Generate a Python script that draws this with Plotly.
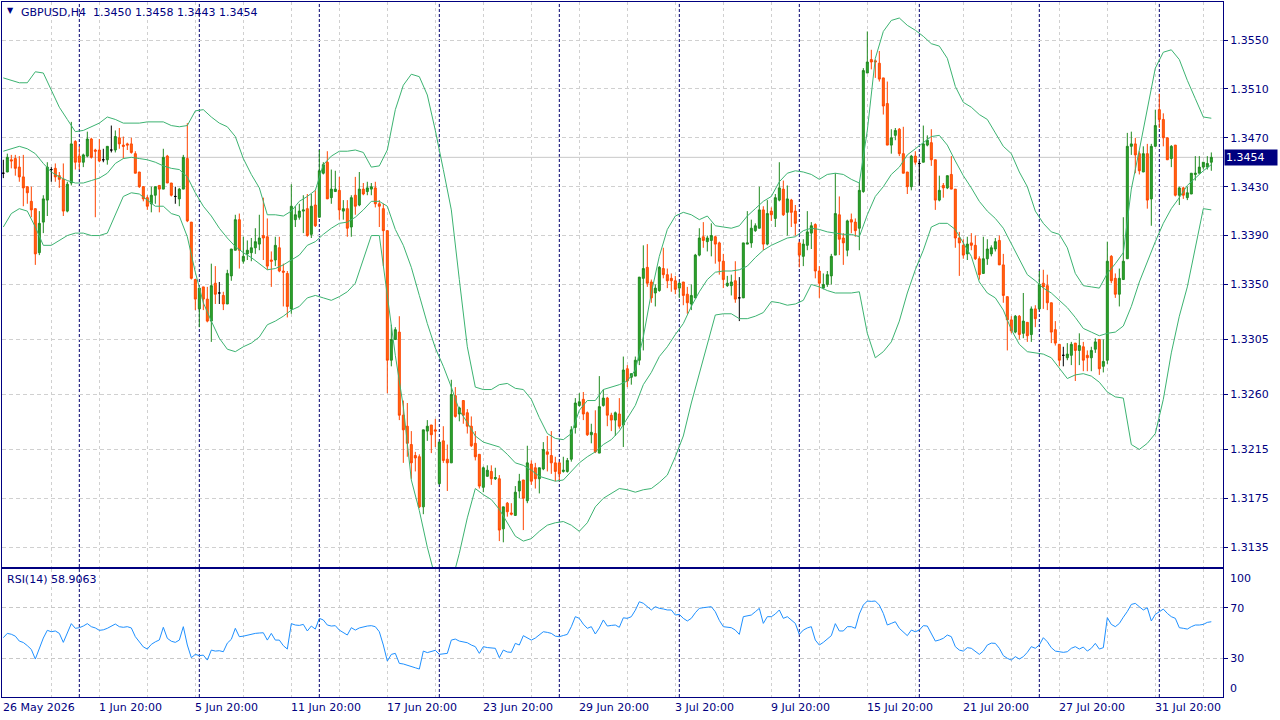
import plotly.graph_objects as go

# GBPUSD H4 candles, bar by bar
opens = [
    1.3441, 1.3442, 1.3452, 1.3453, 1.3446, 1.3438, 1.3430, 1.3418, 1.3412, 1.3376,
    1.3401, 1.3419, 1.3444, 1.3445, 1.3439, 1.3436, 1.3410, 1.3433, 1.3467, 1.3455,
    1.3450, 1.3455, 1.3469, 1.3460, 1.3460, 1.3452, 1.3452, 1.3460, 1.3460, 1.3470,
    1.3464, 1.3465, 1.3465, 1.3457, 1.3442, 1.3430, 1.3421, 1.3416, 1.3423, 1.3431,
    1.3428, 1.3455, 1.3433, 1.3422, 1.3420, 1.3428, 1.3453, 1.3401, 1.3354, 1.3330,
    1.3348, 1.3338, 1.3320, 1.3351, 1.3343, 1.3341, 1.3334, 1.3357, 1.3378, 1.3403,
    1.3369, 1.3375, 1.3376, 1.3380, 1.3383, 1.3390, 1.3389, 1.3370, 1.3370, 1.3380,
    1.3361, 1.3359, 1.3330, 1.3403, 1.3405, 1.3410, 1.3412, 1.3391, 1.3415, 1.3405,
    1.3441, 1.3450, 1.3421, 1.3426, 1.3427, 1.3410, 1.3412, 1.3397, 1.3423, 1.3415,
    1.3428, 1.3426, 1.3428, 1.3429, 1.3416, 1.3412, 1.3394, 1.3288, 1.3305, 1.3311,
    1.3243, 1.3234, 1.3219, 1.3210, 1.3209, 1.3168, 1.3230, 1.3235, 1.3231, 1.3187,
    1.3222, 1.3207, 1.3204, 1.3259, 1.3244, 1.3255, 1.3245, 1.3234, 1.3220, 1.3211,
    1.3184, 1.3193, 1.3197, 1.3191, 1.3191, 1.3150, 1.3171, 1.3163, 1.3161, 1.3181,
    1.3190, 1.3173, 1.3203, 1.3200, 1.3191, 1.3199, 1.3213, 1.3210, 1.3204, 1.3204,
    1.3197, 1.3197, 1.3207, 1.3233, 1.3251, 1.3256, 1.3245, 1.3227, 1.3228, 1.3212,
    1.3251, 1.3257, 1.3243, 1.3239, 1.3244, 1.3235, 1.3281, 1.3274, 1.3275, 1.3288,
    1.3355, 1.3364, 1.3352, 1.3343, 1.3345, 1.3363, 1.3358, 1.3355, 1.3353, 1.3347,
    1.3352, 1.3342, 1.3334, 1.3339, 1.3374, 1.3389, 1.3385, 1.3386, 1.3389, 1.3384,
    1.3369, 1.3349, 1.3349, 1.3353, 1.3339, 1.3339, 1.3383, 1.3384, 1.3394, 1.3396,
    1.3411, 1.3383, 1.3410, 1.3404, 1.3419, 1.3428, 1.3409, 1.3419, 1.3410, 1.3384,
    1.3373, 1.3382, 1.3392, 1.3399, 1.3361, 1.3347, 1.3350, 1.3357, 1.3374, 1.3407,
    1.3388, 1.3378, 1.3403, 1.3401, 1.3396, 1.3426, 1.3523, 1.3534, 1.3533, 1.3531,
    1.3519, 1.3498, 1.3464, 1.3472, 1.3477, 1.3457, 1.3442, 1.3430, 1.3455, 1.3449,
    1.3450, 1.3464, 1.3466, 1.3452, 1.3419, 1.3431, 1.3429, 1.3440, 1.3428, 1.3388,
    1.3382, 1.3375, 1.3384, 1.3382, 1.3371, 1.3359, 1.3371, 1.3375, 1.3379, 1.3386,
    1.3366, 1.3340, 1.3321, 1.3311, 1.3324, 1.3310, 1.3319, 1.3309, 1.3330, 1.3330,
    1.3351, 1.3349, 1.3335, 1.3313, 1.3301, 1.3292, 1.3290, 1.3292, 1.3302, 1.3296,
    1.3299, 1.3292, 1.3290, 1.3297, 1.3305, 1.3283, 1.3288, 1.3373, 1.3355, 1.3342,
    1.3354, 1.3371, 1.3463, 1.3465, 1.3457, 1.3442, 1.3457, 1.3420, 1.3463, 1.3493,
    1.3485, 1.3470, 1.3453, 1.3464, 1.3423, 1.3429, 1.3421, 1.3424, 1.3440, 1.3441,
    1.3446, 1.3446, 1.3450,
]
highs = [
    1.3452, 1.3457, 1.3456, 1.3456, 1.3455, 1.3456, 1.3430, 1.3430, 1.3412, 1.3410,
    1.3423, 1.3450, 1.3446, 1.3449, 1.3442, 1.3449, 1.3434, 1.3483, 1.3468, 1.3463,
    1.3457, 1.3475, 1.3470, 1.3461, 1.3469, 1.3461, 1.3463, 1.3480, 1.3476, 1.3478,
    1.3471, 1.3466, 1.3470, 1.3459, 1.3442, 1.3430, 1.3423, 1.3430, 1.3430, 1.3431,
    1.3461, 1.3456, 1.3433, 1.3430, 1.3429, 1.3456, 1.3482, 1.3401, 1.3354, 1.3347,
    1.3348, 1.3348, 1.3367, 1.3365, 1.3352, 1.3344, 1.3362, 1.3379, 1.3407, 1.3408,
    1.3389, 1.3386, 1.3388, 1.3396, 1.3407, 1.3421, 1.3404, 1.3377, 1.3389, 1.3389,
    1.3367, 1.3361, 1.3432, 1.3414, 1.3416, 1.3423, 1.3424, 1.3424, 1.3427, 1.3460,
    1.3450, 1.3459, 1.3444, 1.3443, 1.3438, 1.3419, 1.3419, 1.3423, 1.3438, 1.3442,
    1.3433, 1.3434, 1.3433, 1.3434, 1.3419, 1.3416, 1.3394, 1.3317, 1.3315, 1.3324,
    1.3255, 1.3253, 1.3230, 1.3213, 1.3211, 1.3231, 1.3239, 1.3235, 1.3240, 1.3221,
    1.3234, 1.3219, 1.3272, 1.3266, 1.3250, 1.3255, 1.3248, 1.3242, 1.3230, 1.3211,
    1.3201, 1.3202, 1.3202, 1.3200, 1.3194, 1.3168, 1.3172, 1.3171, 1.3185, 1.3195,
    1.3190, 1.3218, 1.3206, 1.3204, 1.3200, 1.3221, 1.3226, 1.3230, 1.3209, 1.3205,
    1.3209, 1.3208, 1.3234, 1.3257, 1.3261, 1.3262, 1.3246, 1.3236, 1.3247, 1.3275,
    1.3264, 1.3258, 1.3245, 1.3246, 1.3257, 1.3291, 1.3284, 1.3277, 1.3291, 1.3356,
    1.3382, 1.3383, 1.3354, 1.3350, 1.3365, 1.3380, 1.3363, 1.3359, 1.3357, 1.3352,
    1.3352, 1.3348, 1.3350, 1.3375, 1.3396, 1.3401, 1.3390, 1.3400, 1.3390, 1.3385,
    1.3375, 1.3357, 1.3358, 1.3369, 1.3356, 1.3384, 1.3410, 1.3403, 1.3400, 1.3430,
    1.3414, 1.3419, 1.3413, 1.3424, 1.3450, 1.3435, 1.3431, 1.3420, 1.3415, 1.3385,
    1.3387, 1.3410, 1.3401, 1.3400, 1.3365, 1.3359, 1.3361, 1.3375, 1.3441, 1.3422,
    1.3392, 1.3403, 1.3408, 1.3404, 1.3433, 1.3527, 1.3557, 1.3542, 1.3534, 1.3541,
    1.3519, 1.3516, 1.3477, 1.3478, 1.3478, 1.3479, 1.3442, 1.3456, 1.3459, 1.3451,
    1.3480, 1.3472, 1.3477, 1.3452, 1.3439, 1.3433, 1.3439, 1.3455, 1.3428, 1.3393,
    1.3387, 1.3389, 1.3392, 1.3390, 1.3373, 1.3389, 1.3387, 1.3382, 1.3388, 1.3390,
    1.3375, 1.3340, 1.3324, 1.3325, 1.3325, 1.3343, 1.3319, 1.3332, 1.3333, 1.3361,
    1.3362, 1.3358, 1.3335, 1.3320, 1.3301, 1.3299, 1.3302, 1.3303, 1.3302, 1.3310,
    1.3303, 1.3296, 1.3299, 1.3306, 1.3305, 1.3305, 1.3385, 1.3374, 1.3359, 1.3363,
    1.3405, 1.3474, 1.3475, 1.3470, 1.3459, 1.3463, 1.3465, 1.3465, 1.3493, 1.3506,
    1.3490, 1.3470, 1.3464, 1.3464, 1.3430, 1.3430, 1.3430, 1.3441, 1.3455, 1.3455,
    1.3450, 1.3455, 1.3458,
]
lows = [
    1.3437, 1.3442, 1.3445, 1.3439, 1.3434, 1.3414, 1.3416, 1.3405, 1.3366, 1.3374,
    1.3392, 1.3406, 1.3434, 1.3434, 1.3429, 1.3406, 1.3409, 1.3431, 1.3444, 1.3444,
    1.3446, 1.3454, 1.3453, 1.3405, 1.3450, 1.3450, 1.3448, 1.3458, 1.3458, 1.3461,
    1.3453, 1.3460, 1.3457, 1.3441, 1.3429, 1.3418, 1.3411, 1.3409, 1.3416, 1.3409,
    1.3428, 1.3433, 1.3422, 1.3416, 1.3414, 1.3428, 1.3401, 1.3354, 1.3329, 1.3315,
    1.3329, 1.3319, 1.3303, 1.3334, 1.3334, 1.3329, 1.3334, 1.3353, 1.3378, 1.3363,
    1.3367, 1.3370, 1.3369, 1.3375, 1.3378, 1.3370, 1.3362, 1.3348, 1.3365, 1.3360,
    1.3332, 1.3323, 1.3326, 1.3397, 1.3403, 1.3392, 1.3389, 1.3388, 1.3397, 1.3405,
    1.3440, 1.3420, 1.3416, 1.3426, 1.3403, 1.3403, 1.3389, 1.3389, 1.3407, 1.3414,
    1.3423, 1.3423, 1.3423, 1.3413, 1.3397, 1.3365, 1.3261, 1.3283, 1.3305, 1.3239,
    1.3204, 1.3209, 1.3191, 1.3197, 1.3167, 1.3162, 1.3222, 1.3212, 1.3217, 1.3186,
    1.3204, 1.3181, 1.3204, 1.3241, 1.3238, 1.3236, 1.3228, 1.3217, 1.3206, 1.3183,
    1.3180, 1.3193, 1.3186, 1.3190, 1.3140, 1.3139, 1.3160, 1.3161, 1.3161, 1.3175,
    1.3149, 1.3171, 1.3186, 1.3183, 1.3179, 1.3198, 1.3197, 1.3195, 1.3189, 1.3189,
    1.3196, 1.3196, 1.3205, 1.3228, 1.3250, 1.3239, 1.3226, 1.3220, 1.3212, 1.3212,
    1.3250, 1.3234, 1.3230, 1.3226, 1.3232, 1.3217, 1.3266, 1.3268, 1.3275, 1.3284,
    1.3296, 1.3348, 1.3335, 1.3332, 1.3344, 1.3355, 1.3347, 1.3344, 1.3342, 1.3339,
    1.3333, 1.3326, 1.3329, 1.3339, 1.3373, 1.3380, 1.3377, 1.3373, 1.3367, 1.3358,
    1.3347, 1.3348, 1.3341, 1.3335, 1.3320, 1.3339, 1.3383, 1.3380, 1.3393, 1.3396,
    1.3378, 1.3382, 1.3402, 1.3397, 1.3418, 1.3406, 1.3390, 1.3397, 1.3390, 1.3364,
    1.3365, 1.3378, 1.3379, 1.3355, 1.3339, 1.3346, 1.3348, 1.3350, 1.3374, 1.3374,
    1.3366, 1.3373, 1.3392, 1.3389, 1.3378, 1.3425, 1.3523, 1.3526, 1.3519, 1.3516,
    1.3489, 1.3464, 1.3457, 1.3468, 1.3455, 1.3441, 1.3424, 1.3427, 1.3448, 1.3431,
    1.3450, 1.3463, 1.3447, 1.3411, 1.3418, 1.3421, 1.3428, 1.3428, 1.3380, 1.3357,
    1.3371, 1.3370, 1.3378, 1.3370, 1.3354, 1.3359, 1.3366, 1.3373, 1.3377, 1.3366,
    1.3335, 1.3296, 1.3310, 1.3310, 1.3305, 1.3306, 1.3303, 1.3303, 1.3315, 1.3329,
    1.3330, 1.3329, 1.3302, 1.3300, 1.3283, 1.3283, 1.3288, 1.3284, 1.3271, 1.3284,
    1.3279, 1.3279, 1.3279, 1.3294, 1.3276, 1.3278, 1.3285, 1.3351, 1.3339, 1.3332,
    1.3354, 1.3371, 1.3456, 1.3441, 1.3440, 1.3442, 1.3412, 1.3398, 1.3463, 1.3478,
    1.3463, 1.3452, 1.3446, 1.3422, 1.3415, 1.3420, 1.3419, 1.3424, 1.3435, 1.3441,
    1.3444, 1.3444, 1.3443,
]
closes = [
    1.3441, 1.3454, 1.3451, 1.3445, 1.3438, 1.3429, 1.3425, 1.3411, 1.3375, 1.3400,
    1.3420, 1.3446, 1.3444, 1.3438, 1.3436, 1.3410, 1.3432, 1.3465, 1.3450, 1.3450,
    1.3456, 1.3469, 1.3454, 1.3459, 1.3451, 1.3452, 1.3463, 1.3460, 1.3471, 1.3465,
    1.3463, 1.3464, 1.3458, 1.3441, 1.3430, 1.3420, 1.3414, 1.3423, 1.3430, 1.3428,
    1.3454, 1.3433, 1.3423, 1.3422, 1.3428, 1.3454, 1.3402, 1.3355, 1.3338, 1.3347,
    1.3338, 1.3320, 1.3349, 1.3342, 1.3343, 1.3334, 1.3359, 1.3379, 1.3403, 1.3378,
    1.3373, 1.3378, 1.3380, 1.3385, 1.3388, 1.3388, 1.3365, 1.3369, 1.3382, 1.3361,
    1.3360, 1.3332, 1.3414, 1.3407, 1.3410, 1.3411, 1.3390, 1.3414, 1.3398, 1.3443,
    1.3448, 1.3420, 1.3428, 1.3428, 1.3411, 1.3412, 1.3396, 1.3421, 1.3414, 1.3428,
    1.3424, 1.3429, 1.3430, 1.3416, 1.3414, 1.3394, 1.3288, 1.3305, 1.3313, 1.3243,
    1.3231, 1.3220, 1.3204, 1.3208, 1.3168, 1.3231, 1.3234, 1.3227, 1.3230, 1.3221,
    1.3206, 1.3204, 1.3260, 1.3242, 1.3249, 1.3243, 1.3234, 1.3218, 1.3209, 1.3185,
    1.3200, 1.3198, 1.3191, 1.3192, 1.3149, 1.3168, 1.3164, 1.3162, 1.3180, 1.3189,
    1.3175, 1.3204, 1.3189, 1.3191, 1.3200, 1.3215, 1.3211, 1.3204, 1.3197, 1.3195,
    1.3198, 1.3206, 1.3231, 1.3253, 1.3254, 1.3244, 1.3227, 1.3229, 1.3213, 1.3250,
    1.3257, 1.3243, 1.3239, 1.3245, 1.3234, 1.3280, 1.3271, 1.3277, 1.3288, 1.3356,
    1.3363, 1.3351, 1.3339, 1.3347, 1.3364, 1.3358, 1.3353, 1.3353, 1.3346, 1.3351,
    1.3341, 1.3335, 1.3341, 1.3374, 1.3388, 1.3386, 1.3388, 1.3390, 1.3383, 1.3369,
    1.3354, 1.3351, 1.3352, 1.3338, 1.3339, 1.3384, 1.3384, 1.3396, 1.3398, 1.3411,
    1.3383, 1.3408, 1.3407, 1.3421, 1.3429, 1.3407, 1.3420, 1.3409, 1.3400, 1.3374,
    1.3383, 1.3393, 1.3398, 1.3361, 1.3351, 1.3350, 1.3358, 1.3373, 1.3408, 1.3387,
    1.3384, 1.3402, 1.3401, 1.3394, 1.3427, 1.3525, 1.3532, 1.3532, 1.3532, 1.3518,
    1.3496, 1.3464, 1.3470, 1.3476, 1.3457, 1.3441, 1.3430, 1.3455, 1.3450, 1.3449,
    1.3465, 1.3468, 1.3452, 1.3419, 1.3427, 1.3429, 1.3439, 1.3428, 1.3388, 1.3384,
    1.3374, 1.3383, 1.3382, 1.3371, 1.3358, 1.3371, 1.3379, 1.3380, 1.3385, 1.3366,
    1.3341, 1.3321, 1.3312, 1.3324, 1.3309, 1.3320, 1.3308, 1.3330, 1.3322, 1.3350,
    1.3348, 1.3335, 1.3311, 1.3302, 1.3288, 1.3292, 1.3293, 1.3301, 1.3296, 1.3300,
    1.3288, 1.3290, 1.3296, 1.3303, 1.3281, 1.3287, 1.3369, 1.3353, 1.3342, 1.3355,
    1.3369, 1.3463, 1.3465, 1.3456, 1.3443, 1.3457, 1.3419, 1.3463, 1.3480, 1.3485,
    1.3470, 1.3452, 1.3463, 1.3423, 1.3429, 1.3423, 1.3425, 1.3441, 1.3441, 1.3446,
    1.3450, 1.3449, 1.3454,
]

# RSI(14), one value per bar
rsi = [
    46.3, 49.7, 49.0, 47.5, 43.6, 42.5, 40.0, 37.0, 29.4, 37.9,
    46.0, 52.1, 51.0, 51.6, 49.7, 42.6, 49.7, 57.4, 53.7, 54.2,
    55.5, 57.4, 55.0, 54.0, 52.1, 52.5, 53.7, 55.5, 57.1, 55.0,
    54.5, 55.0, 54.0, 47.1, 43.0, 39.0, 37.3, 41.0, 43.0, 44.5,
    54.5, 45.8, 43.5, 42.6, 44.4, 55.0, 40.5, 30.5, 33.1, 32.1,
    32.5, 28.6, 36.5, 35.7, 36.0, 35.2, 42.0, 45.0, 53.7, 47.1,
    47.5, 48.4, 48.8, 49.7, 50.0, 50.2, 44.4, 49.7, 44.4, 44.4,
    40.0, 37.3, 57.4, 56.3, 56.0, 56.8, 51.6, 55.5, 53.1, 61.6,
    60.3, 56.3, 55.5, 55.8, 52.3, 50.5, 48.4, 54.2, 52.3, 54.0,
    55.0, 55.5, 55.8, 55.0, 51.0, 40.5, 27.8, 33.1, 33.9, 26.0,
    25.5, 24.7, 23.4, 22.5, 21.5, 35.7, 34.5, 35.7, 36.3, 33.1,
    33.5, 33.9, 44.4, 45.2, 43.6, 43.0, 42.3, 40.5, 39.2, 33.9,
    39.2, 38.5, 37.9, 37.9, 30.5, 36.5, 35.0, 34.7, 41.8, 40.5,
    47.9, 46.0, 44.4, 46.0, 48.4, 51.0, 50.5, 49.7, 47.5, 47.1,
    48.0, 48.9, 55.0, 62.9, 61.6, 57.0, 53.7, 55.0, 49.2, 54.0,
    60.3, 55.5, 56.0, 56.3, 54.5, 62.0, 61.6, 62.9, 68.0, 74.7,
    73.5, 70.8, 68.2, 70.8, 69.5, 69.0, 68.2, 68.2, 64.2, 64.7,
    61.6, 59.5, 61.6, 66.0, 69.5, 70.0, 70.5, 70.8, 66.8, 60.0,
    55.0, 54.5, 54.2, 52.3, 48.9, 62.9, 63.5, 64.2, 66.8, 69.5,
    57.6, 62.9, 62.9, 65.0, 68.2, 61.6, 62.9, 60.0, 57.6, 48.9,
    52.3, 54.0, 55.0, 44.4, 40.5, 42.6, 45.0, 47.9, 57.4, 51.6,
    51.6, 55.0, 55.0, 53.7, 65.0, 72.1, 75.3, 75.0, 75.3, 72.1,
    65.5, 56.3, 57.6, 58.9, 53.7, 51.0, 47.9, 52.3, 51.0, 52.3,
    55.8, 55.5, 49.7, 43.6, 44.5, 45.8, 48.4, 47.1, 39.2, 36.5,
    35.7, 38.4, 37.9, 35.7, 33.1, 35.7, 40.5, 42.0, 41.8, 37.9,
    32.1, 30.0, 28.6, 31.3, 29.4, 31.3, 34.7, 39.2, 37.9, 40.5,
    46.3, 43.1, 38.4, 35.7, 35.2, 34.7, 35.2, 37.9, 39.2, 37.3,
    38.9, 35.7, 37.9, 41.8, 37.3, 38.4, 62.1, 56.8, 55.0, 57.5,
    62.5, 67.0, 72.6, 73.4, 70.8, 68.2, 70.0, 59.5, 64.7, 66.8,
    68.9, 65.5, 62.9, 61.6, 54.2, 53.7, 53.1, 55.0, 56.3, 56.3,
    56.8, 58.4, 58.9063,
]

# Bollinger bands, read every second bar
band_upper = [
    1.3519, 1.3517, 1.3515, 1.3515, 1.3524, 1.3523, 1.3509, 1.3495, 1.3485, 1.3475,
    1.3476, 1.3479, 1.3482, 1.3487, 1.3485, 1.3482, 1.3482, 1.3482, 1.3483, 1.3483,
    1.3483, 1.3480, 1.3479, 1.3480, 1.3492, 1.3493, 1.3487, 1.3482, 1.3479, 1.3471,
    1.3453, 1.3440, 1.3429, 1.3407, 1.3407, 1.3406, 1.3410, 1.3418, 1.3422, 1.3427,
    1.3448, 1.3455, 1.3459, 1.3459, 1.3460, 1.3458, 1.3446, 1.3447, 1.3460, 1.3493,
    1.3513, 1.3522, 1.3520, 1.3505, 1.3476, 1.3444, 1.3411, 1.3354, 1.3299, 1.3266,
    1.3264, 1.3264, 1.3268, 1.3269, 1.3265, 1.3264, 1.3256, 1.3241, 1.3228, 1.3224,
    1.3223, 1.3228, 1.3247, 1.3255, 1.3255, 1.3264, 1.3266, 1.3268, 1.3271, 1.3280,
    1.3307, 1.3343, 1.3373, 1.3395, 1.3406, 1.3409, 1.3407, 1.3403, 1.3406, 1.3398,
    1.3397, 1.3396, 1.3398, 1.3406, 1.3412, 1.3418, 1.3422, 1.3434, 1.3441, 1.3443,
    1.3442, 1.3440, 1.3436, 1.3440, 1.3441, 1.3440, 1.3436, 1.3433, 1.3476, 1.3535,
    1.3557, 1.3566, 1.3568, 1.3562, 1.3558, 1.3553, 1.3547, 1.3545, 1.3535, 1.3512,
    1.3499, 1.3495, 1.3489, 1.3485, 1.3474, 1.3463, 1.3457, 1.3442, 1.3430, 1.3410,
    1.3400, 1.3393, 1.3391, 1.3380, 1.3359, 1.3349, 1.3348, 1.3347, 1.3359, 1.3367,
    1.3376, 1.3428, 1.3460, 1.3495, 1.3527, 1.3540, 1.3542, 1.3534, 1.3517, 1.3502,
    1.3487, 1.3486,
]
band_middle = [
    1.3459, 1.3461, 1.3463, 1.3461, 1.3457, 1.3449, 1.3442, 1.3438, 1.3435, 1.3433,
    1.3433, 1.3435, 1.3437, 1.3441, 1.3449, 1.3453, 1.3454, 1.3453, 1.3452, 1.3450,
    1.3447, 1.3445, 1.3444, 1.3438, 1.3425, 1.3414, 1.3406, 1.3396, 1.3388, 1.3381,
    1.3376, 1.3372, 1.3367, 1.3362, 1.3363, 1.3366, 1.3370, 1.3374, 1.3382, 1.3385,
    1.3391, 1.3396, 1.3400, 1.3401, 1.3405, 1.3411, 1.3418, 1.3418, 1.3414, 1.3395,
    1.3382, 1.3364, 1.3341, 1.3318, 1.3298, 1.3283, 1.3266, 1.3247, 1.3237, 1.3226,
    1.3221, 1.3219, 1.3217, 1.3211, 1.3204, 1.3202, 1.3198, 1.3193, 1.3191, 1.3189,
    1.3190, 1.3197, 1.3204, 1.3209, 1.3213, 1.3219, 1.3223, 1.3230, 1.3240, 1.3251,
    1.3268, 1.3278, 1.3291, 1.3299, 1.3309, 1.3318, 1.3332, 1.3344, 1.3354, 1.3360,
    1.3361, 1.3361, 1.3362, 1.3365, 1.3372, 1.3378, 1.3382, 1.3385, 1.3388, 1.3389,
    1.3394, 1.3396, 1.3395, 1.3393, 1.3392, 1.3391, 1.3391, 1.3389, 1.3407, 1.3422,
    1.3430, 1.3440, 1.3446, 1.3456, 1.3461, 1.3466, 1.3471, 1.3472, 1.3464, 1.3451,
    1.3439, 1.3429, 1.3418, 1.3410, 1.3404, 1.3396, 1.3383, 1.3370, 1.3358, 1.3353,
    1.3347, 1.3343, 1.3337, 1.3331, 1.3323, 1.3314, 1.3311, 1.3308, 1.3310, 1.3311,
    1.3316, 1.3332, 1.3352, 1.3369, 1.3385, 1.3400, 1.3412, 1.3421, 1.3431, 1.3437,
    1.3443, 1.3448,
]
band_lower = [
    1.3397, 1.3408, 1.3412, 1.3410, 1.3397, 1.3382, 1.3382, 1.3386, 1.3390, 1.3392,
    1.3392, 1.3390, 1.3390, 1.3392, 1.3407, 1.3422, 1.3425, 1.3424, 1.3419, 1.3414,
    1.3414, 1.3408, 1.3406, 1.3389, 1.3360, 1.3335, 1.3320, 1.3306, 1.3297, 1.3295,
    1.3299, 1.3302, 1.3307, 1.3317, 1.3320, 1.3324, 1.3329, 1.3332, 1.3339, 1.3341,
    1.3339, 1.3337, 1.3340, 1.3344, 1.3351, 1.3370, 1.3390, 1.3390, 1.3340, 1.3292,
    1.3250, 1.3190, 1.3165, 1.3135, 1.3110, 1.3095, 1.3105, 1.3130, 1.3159, 1.3183,
    1.3178, 1.3174, 1.3166, 1.3155, 1.3144, 1.3140, 1.3142, 1.3148, 1.3153, 1.3155,
    1.3156, 1.3153, 1.3148, 1.3155, 1.3168, 1.3175, 1.3179, 1.3183, 1.3182, 1.3180,
    1.3182, 1.3183, 1.3188, 1.3194, 1.3209, 1.3226, 1.3253, 1.3277, 1.3302, 1.3325,
    1.3326, 1.3326, 1.3322, 1.3322, 1.3324, 1.3327, 1.3336, 1.3335, 1.3333, 1.3334,
    1.3337, 1.3350, 1.3348, 1.3345, 1.3343, 1.3343, 1.3343, 1.3344, 1.3310, 1.3290,
    1.3295, 1.3303, 1.3320, 1.3343, 1.3362, 1.3378, 1.3397, 1.3400, 1.3400, 1.3395,
    1.3384, 1.3373, 1.3352, 1.3343, 1.3339, 1.3329, 1.3313, 1.3301, 1.3295, 1.3294,
    1.3293, 1.3290, 1.3281, 1.3273, 1.3276, 1.3277, 1.3275, 1.3270, 1.3262, 1.3258,
    1.3257, 1.3219, 1.3215, 1.3220, 1.3228, 1.3256, 1.3294, 1.3324, 1.3348, 1.3380,
    1.3412, 1.3411,
]

price_ticks = [1.3550, 1.3510, 1.3470, 1.3430, 1.3390, 1.3350, 1.3305, 1.3260, 1.3215, 1.3175, 1.3135]
rsi_levels = [30, 70]
time_labels = ['26 May 2026', '1 Jun 20:00', '5 Jun 20:00', '11 Jun 20:00', '17 Jun 20:00',
               '23 Jun 20:00', '29 Jun 20:00', '3 Jul 20:00', '9 Jul 20:00', '15 Jul 20:00',
               '21 Jul 20:00', '27 Jul 20:00', '31 Jul 20:00']

bars = list(range(len(closes)))
band_bars = bars[::2]
label_bars = bars[::24]
grid_bars = bars[12::12]
sep_bars = bars[19::30]

W, H = 1280, 720
NAVY = '#000080'
FONT = 'DejaVu Sans'
UP_LINE, UP_FILL = '#1f8a1f', '#2ca52c'
DN_LINE, DN_FILL = '#ff4500', '#ff6a10'
GRID = '#d0d0d0'

# pixel layout of the two panes
xdom = [2 / W, 1223 / W]
main_dom = [1 - 567 / H, 1 - 2 / H]
rsi_dom = [1 - 697 / H, 1 - 569 / H]
xrange_ = [-0.33, 304.92]
yrange_ = [1.31188, 1.35811]


def candles(idx, line, fill):
    return go.Candlestick(
        x=[bars[i] for i in idx],
        open=[opens[i] for i in idx], high=[highs[i] for i in idx],
        low=[lows[i] for i in idx], close=[closes[i] for i in idx],
        increasing=dict(line=dict(color=line, width=1), fillcolor=fill),
        decreasing=dict(line=dict(color=line, width=1), fillcolor=fill),
        whiskerwidth=0, showlegend=False, hoverinfo='skip', xaxis='x', yaxis='y')


up = [i for i in bars if closes[i] > opens[i]]
dn = [i for i in bars if closes[i] < opens[i]]
dj = [i for i in bars if closes[i] == opens[i]]

fig = go.Figure()
for band in (band_upper, band_middle, band_lower):
    fig.add_trace(go.Scatter(x=band_bars, y=band, mode='lines', line=dict(color='#3cb371', width=1),
                             showlegend=False, hoverinfo='skip', xaxis='x', yaxis='y'))
fig.add_trace(candles(up, UP_LINE, UP_FILL))
fig.add_trace(candles(dn, DN_LINE, DN_FILL))
fig.add_trace(candles(dj, '#000000', '#000000'))
fig.add_trace(go.Scatter(x=bars, y=rsi, mode='lines', line=dict(color='#1e90ff', width=1),
                         showlegend=False, hoverinfo='skip', xaxis='x2', yaxis='y2'))

axis_common = dict(showline=True, mirror=True, linecolor=NAVY, linewidth=1, zeroline=False,
                   tickfont=dict(family=FONT, size=11, color=NAVY))

shapes = []
for b in sep_bars:
    for xr, yr in (('x', 'y domain'), ('x2', 'y2 domain')):
        shapes.append(dict(type='line', xref=xr, yref=yr, x0=b, x1=b, y0=0, y1=1, layer='below',
                           line=dict(color='#000070', width=1, dash='3px,2px')))
shapes.append(dict(type='line', xref='x domain', yref='y', x0=0, x1=1, y0=closes[-1], y1=closes[-1],
                   layer='below', line=dict(color='#c8c8c8', width=1)))

annotations = []
for b, t in zip(label_bars, time_labels):
    annotations.append(dict(x=b, xref='x2', y=1 - 707 / H, yref='paper', text=t, showarrow=False,
                            xanchor='left', yanchor='middle', xshift=-2,
                            font=dict(family=FONT, size=11, color=NAVY)))
annotations.append(dict(x=5 / W, y=1 - 11 / H, xref='paper', yref='paper', text='▼', showarrow=False,
                        xanchor='left', yanchor='middle', font=dict(family=FONT, size=8, color=NAVY)))
header = 'GBPUSD,H4  %.4f %.4f %.4f %.4f' % (opens[-1], highs[-1], lows[-1], closes[-1])
annotations.append(dict(x=19 / W, y=1 - 12 / H, xref='paper', yref='paper', text=header, showarrow=False,
                        xanchor='left', yanchor='middle', font=dict(family=FONT, size=11, color=NAVY)))
annotations.append(dict(x=5 / W, y=1 - 579 / H, xref='paper', yref='paper', text='RSI(14) %.4f' % rsi[-1],
                        showarrow=False, xanchor='left', yanchor='middle',
                        font=dict(family=FONT, size=11, color=NAVY)))
for v, py in ((100, 578), (0, 688)):
    annotations.append(dict(x=1228 / W, y=1 - py / H, xref='paper', yref='paper', text=str(v),
                            showarrow=False, xanchor='left', yanchor='middle',
                            font=dict(family=FONT, size=11, color=NAVY)))
annotations.append(dict(x=1224 / W, y=closes[-1], xref='paper', yref='y', text='%.4f' % closes[-1],
                        showarrow=False, xanchor='left', yanchor='middle', bgcolor=NAVY,
                        width=50, align='left', borderpad=1,
                        font=dict(family=FONT, size=11, color='#ffffff')))

fig.update_layout(
    width=W, height=H, margin=dict(l=0, r=0, t=0, b=0),
    paper_bgcolor='#ffffff', plot_bgcolor='#ffffff', showlegend=False,
    xaxis=dict(domain=xdom, anchor='y', range=xrange_, tickmode='array', tickvals=grid_bars,
               showticklabels=False, ticks='', showgrid=True, gridcolor=GRID, griddash='3px,3px',
               rangeslider=dict(visible=False), **axis_common),
    yaxis=dict(domain=main_dom, anchor='x', side='right', range=yrange_, tickmode='array',
               tickvals=price_ticks, ticktext=['%.4f' % p for p in price_ticks], ticks='outside',
               ticklen=4, tickcolor=NAVY, showgrid=True, gridcolor=GRID, griddash='4px,3px',
               **axis_common),
    xaxis2=dict(domain=xdom, anchor='y2', range=xrange_, tickmode='array', tickvals=grid_bars,
                showticklabels=False, ticks='', showgrid=True, gridcolor=GRID, griddash='3px,3px',
                **axis_common),
    xaxis3=dict(domain=xdom, anchor='y2', overlaying='x2', range=xrange_, tickmode='array',
                tickvals=label_bars, showticklabels=False, ticks='outside', ticklen=4, tickcolor=NAVY,
                showgrid=False, showline=False, zeroline=False),
    yaxis2=dict(domain=rsi_dom, anchor='x2', side='right', range=[-0.6, 100.6], tickmode='array',
                tickvals=rsi_levels, ticks='outside', ticklen=4, tickcolor=NAVY, showgrid=True,
                gridcolor='#c8c8c8', griddash='4px,3px', **axis_common),
    shapes=shapes, annotations=annotations,
)

# the page body has an 8px default margin; drop it so the chart sits at 0,0
fig.write_html("out.html", config={'displayModeBar': False},
               post_script="document.body.style.margin='0';")
